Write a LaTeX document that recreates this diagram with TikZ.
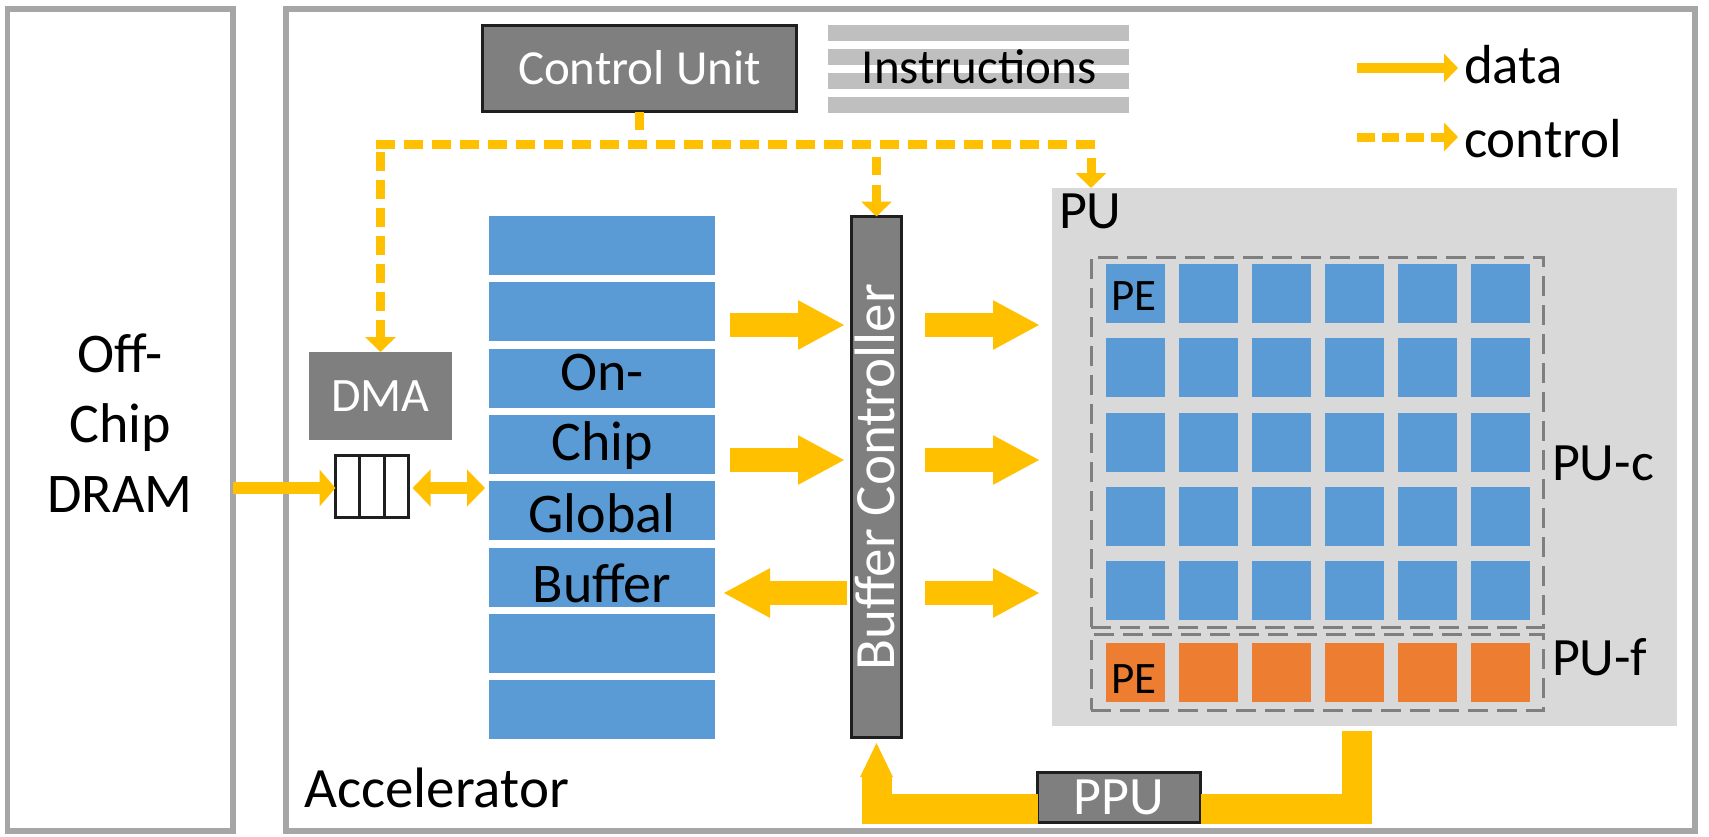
\documentclass[tikz,border=0pt]{standalone}
\usepackage{fontspec}
\setmainfont{Carlito}
\usetikzlibrary{arrows.meta,calc}
\definecolor{gold}{HTML}{FFC000}
\definecolor{peblue}{HTML}{5B9BD5}
\definecolor{peorange}{HTML}{ED7D31}
\definecolor{boxgray}{HTML}{7F7F7F}
\definecolor{boxline}{HTML}{1F1F1F}
\definecolor{pugray}{HTML}{D9D9D9}
\definecolor{bargray}{HTML}{BFBFBF}
\definecolor{framegray}{HTML}{A6A6A6}
\definecolor{dashgray}{HTML}{7F7F7F}
\newcommand{\setfs}[1]{\fontsize{#1}{#1}\selectfont}
\begin{document}
\begin{tikzpicture}[x=1pt,y=-1pt,
  frame/.style={draw=framegray, line width=5.5pt, fill=white, inner sep=0pt, outer sep=0pt},
  darkbox/.style={draw=boxline, line width=3pt, fill=boxgray, text=white, inner sep=0pt, outer sep=0pt},
  bar/.style={fill=bargray, minimum width=301pt, minimum height=16pt, inner sep=0pt, outer sep=0pt},
  stripe/.style={fill=peblue, minimum width=226pt, minimum height=59pt, inner sep=0pt, outer sep=0pt},
  pecell/.style={minimum width=59pt, minimum height=59pt, inner sep=0pt, outer sep=0pt},
  dbox/.style={draw=dashgray, line width=3pt, dash pattern=on 20pt off 9pt, inner sep=0pt, outer sep=0pt},
  lbl/.style={inner sep=0pt, outer sep=0pt, anchor=base west},
  clbl/.style={inner sep=0pt, outer sep=0pt, anchor=base},
  datatip/.style={-{Triangle[length=16pt,width=36pt]}},
  dataline/.style={draw=gold, line width=12pt},
  bigarrow/.style={draw=gold, line width=24pt, -{Triangle[length=47pt,width=46pt]}},
  ppuline/.style={draw=gold, line width=30pt, line join=miter},
  ctrl/.style={draw=gold, line width=9pt, dash pattern=on 18.5pt off 9.5pt},
  ctrltip/.style={-{Triangle[length=15pt,width=30pt]}},
]
\useasboundingbox (0,0) rectangle (1709,836);

% outer frames
\node[frame, minimum width=225.3pt, minimum height=822pt] (dram) at (120.35,420) {};
\node[frame, minimum width=1409pt, minimum height=822pt] (acc) at (990.5,420) {};

\node[clbl] (dram-t1) at (120,372) {\setfs{56}Off-};
\node[clbl] (dram-t2) at (120,442) {\setfs{56}Chip};
\node[clbl] (dram-t3) at (120,512) {\setfs{56}DRAM};
\node[lbl] (acc-t) at (304,807) {\setfs{57}Accelerator};

% control unit and instruction memory
\node[darkbox, minimum width=314pt, minimum height=86pt, font={\setfs{49}},
      text height=31.5pt, text depth=0pt] (cu) at (639.5,68.5) {Control Unit};
\foreach \i/\y in {1/33,2/57,3/81,4/105}
  \node[bar] (ins\i) at (978.5,\y) {};
\node[inner sep=0pt, font={\setfs{49}}, text height=31.5pt, text depth=0pt] (ins-t) at (979,67.5) {Instructions};

% legend
\coordinate (lg-d1) at (1357,68);
\coordinate (lg-d2) at (1458,68);
\coordinate (lg-c1) at (1357,137);
\coordinate (lg-c2) at (1458,137);
\draw[draw=gold, line width=9.5pt, -{Triangle[length=14pt,width=28pt]}] (lg-d1) -- (lg-d2);
\draw[draw=gold, line width=9pt, dash pattern=on 17.5pt off 7pt, -{Triangle[length=14pt,width=28pt]}] (lg-c1) -- (lg-c2);
\node[lbl] (lg-dt) at (1464,83) {\setfs{55}data};
\node[lbl] (lg-ct) at (1464,157) {\setfs{55}control};

% DMA and its FIFO
\node[fill=boxgray, text=white, minimum width=143pt, minimum height=88pt, inner sep=0pt, outer sep=0pt,
      font={\setfs{48}}, text height=31pt, text depth=0pt] (dma) at (380.5,396) {DMA};
\node[draw=boxline, line width=3pt, fill=white, minimum width=73pt, minimum height=62pt,
      inner sep=0pt, outer sep=0pt] (fifo) at (372,486.5) {};
\draw[line width=3pt, boxline] ($(fifo.north west)!1/3!(fifo.north east)$) -- ($(fifo.south west)!1/3!(fifo.south east)$);
\draw[line width=3pt, boxline] ($(fifo.north west)!2/3!(fifo.north east)$) -- ($(fifo.south west)!2/3!(fifo.south east)$);

% on-chip global buffer
\foreach \i in {1,...,8}
  \node[stripe] (s\i) at (602,{245.5+66.3*(\i-1)}) {};
\node[clbl] (gb-t1) at (602,390) {\setfs{56}On-};
\node[clbl] (gb-t2) at (602,460) {\setfs{56}Chip};
\node[clbl] (gb-t3) at (602,532) {\setfs{56}Global};
\node[clbl] (gb-t4) at (602,602) {\setfs{56}Buffer};

% buffer controller
\node[darkbox, minimum width=50pt, minimum height=521pt] (bc) at (876.5,477) {};
\node[rotate=90, text=white, inner sep=0pt, font={\setfs{57}}, text height=36.7pt, text depth=0pt]
  (bc-t) at (bc.center) {Buffer Controller};

% processing unit
\node[fill=pugray, minimum width=625pt, minimum height=538pt, inner sep=0pt, outer sep=0pt] (pu) at (1364.5,457) {};
\node[lbl] (pu-t) at (1059,228) {\setfs{54}PU};
\node[dbox, minimum width=452pt, minimum height=370pt] (puc) at (1317,442) {};
\node[dbox, minimum width=452pt, minimum height=76pt] (puf) at (1317,672) {};
\foreach \c in {0,...,5}{
  \foreach \r in {0,...,4}
    \node[pecell, fill=peblue] (pe-\r-\c) at ({1135.5+73*\c},{293.5+74.25*\r}) {};
  \node[pecell, fill=peorange] (pf-\c) at ({1135.5+73*\c},672) {};
}
\node[lbl] (pe-t1) at (1111,310) {\setfs{45}PE};
\node[lbl] (pe-t2) at (1111,693) {\setfs{45}PE};
\node[lbl] (puc-t) at (1552,480) {\setfs{54}PU-c};
\node[lbl] (puf-t) at (1552,675) {\setfs{54}PU-f};

% post-processing unit
\node[darkbox, minimum width=163pt, minimum height=50pt, font={\setfs{54}},
      text height=34.8pt, text depth=0pt] (ppu) at (1119,797.5) {PPU};

% control connections
\coordinate (busl) at (380.5,144.5);
\coordinate (busr) at (1091,144.5);
\draw[ctrl] (cu.south) -- ++(0,18.5);
\draw[ctrl] ([xshift=-4.5pt]busl) -- ([xshift=4.5pt]busr);
\draw[ctrl, ctrltip, shorten <=7.5pt] (busl) -- (dma.north);
\draw[ctrl, ctrltip, shorten <=12pt] (bc.north |- busl) -- (bc.north);
\draw[ctrl, ctrltip, shorten <=13.5pt] (busr) -- (busr |- pu.north);

% data connections
\draw[dataline, datatip] (dram.east |- 0,488) -- (fifo.west |- 0,488);
\draw[dataline, {Triangle[length=18pt,width=36pt]}-{Triangle[length=18pt,width=36pt]},
      shorten <=4pt, shorten >=4pt] (fifo.east |- 0,488) -- (s1.west |- 0,488);
\foreach \y in {325,460}
  \draw[bigarrow, shorten <=15pt, shorten >=6.5pt] (s1.east |- 0,\y) -- (bc.west |- 0,\y);
\draw[bigarrow, shorten <=4.5pt, shorten >=8pt] (bc.west |- 0,593) -- (s1.east |- 0,593);
\foreach \y in {325,460,593}
  \draw[bigarrow, shorten <=23.5pt, shorten >=12pt] (bc.east |- 0,\y) -- (pu.west |- 0,\y);

% result path through the post-processing unit
\draw[ppuline, shorten <=5pt] (1357,0 |- pu.south) -- (1357,809) -- (ppu.east |- 0,809);
\draw[ppuline, -{Triangle[length=35pt,width=30pt]}, shorten >=4.5pt]
  (ppu.west |- 0,809) -- (bc.south |- 0,809) -- (bc.south);
\end{tikzpicture}
\end{document}
